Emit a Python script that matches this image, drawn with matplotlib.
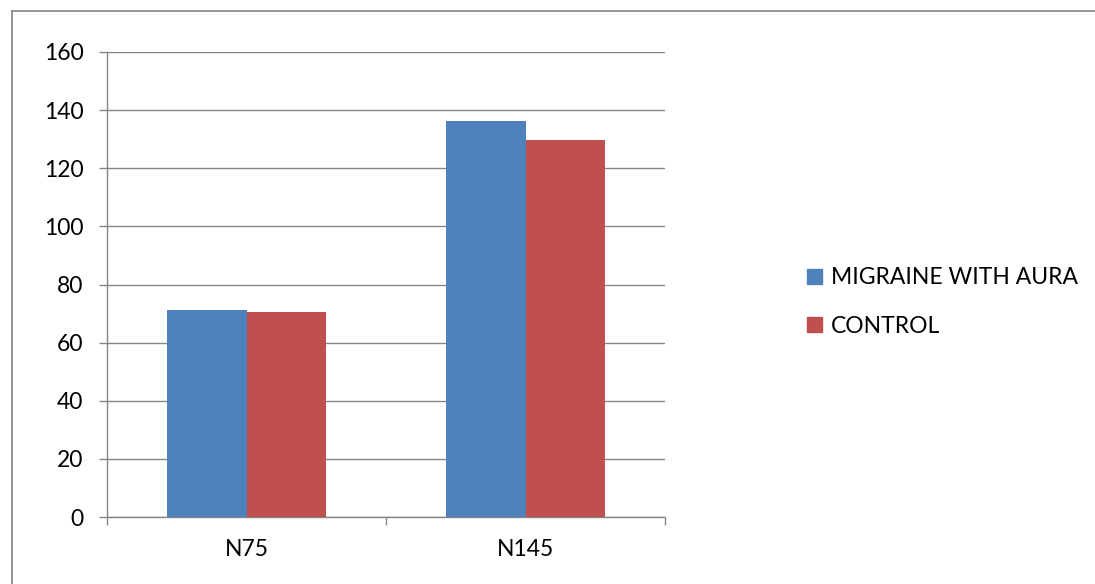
# Grouped bar chart: N75 / N145 latencies, migraine with aura vs control

import matplotlib
matplotlib.use("Agg")
import matplotlib.pyplot as plt
from matplotlib.patches import Patch
from matplotlib.lines import Line2D

# -------------------------------------------------------
# DATA
# -------------------------------------------------------
categories = ["N75", "N145"]
migraine_aura = [71.3, 136.2]
control = [70.5, 129.8]
series_names = ["MIGRAINE WITH AURA", "CONTROL"]
y_ticks = [0, 20, 40, 60, 80, 100, 120, 140, 160]

BLUE = "#4F81BD"
RED = "#C0504D"
GRID = "#868686"
FS = 16.5

plt.rcParams["font.family"] = ["Lato", "DejaVu Sans"]

W, H = 1095, 584
fig = plt.figure(figsize=(W / 100, H / 100), dpi=100)

# plot area in pixels: x 107..665, y 52..517
ax = fig.add_axes([107 / W, (H - 517) / H, 558 / W, 465 / H])

bar_w = 0.285
xs = list(range(len(categories)))
ax.bar([x - bar_w / 2 for x in xs], migraine_aura, bar_w, color=BLUE, zorder=3)
ax.bar([x + bar_w / 2 for x in xs], control, bar_w, color=RED, zorder=3)

ax.set_xlim(-0.5, len(categories) - 0.5)
ax.set_ylim(0, 160)
ax.set_yticks(y_ticks)
ax.set_yticklabels([str(v) for v in y_ticks])
ax.yaxis.grid(True, color=GRID, linewidth=1.0, zorder=0)
ax.set_axisbelow(True)

# category labels centered, ticks at the category boundaries
ax.set_xticks(xs)
ax.set_xticklabels(categories)
ax.tick_params(axis="x", which="major", length=0, pad=16, labelsize=FS)
ax.set_xticks([-0.5, 0.5, 1.5], minor=True)
ax.tick_params(axis="x", which="minor", length=6, color=GRID, width=1.0)
ax.tick_params(axis="y", length=6, color=GRID, width=1.0, pad=11, labelsize=FS)

for side in ["top", "right"]:
    ax.spines[side].set_visible(False)
for side in ["left", "bottom"]:
    ax.spines[side].set_color(GRID)
    ax.spines[side].set_linewidth(1.0)

handles = [Patch(color=BLUE), Patch(color=RED)]
fig.legend(handles, series_names, loc="center left",
           bbox_to_anchor=(807 / W, 1 - 302 / H), frameon=False,
           fontsize=FS, handlelength=0.65, handleheight=0.65,
           handletextpad=0.4, labelspacing=1.2, borderpad=0,
           borderaxespad=0)

# outer chart-area border: only the left and top edges are in the crop
x0, y0 = 11.5 / W, 1 - 10.5 / H
fig.add_artist(Line2D([x0, x0], [-0.1, y0], transform=fig.transFigure,
                      color="#8C8C8C", linewidth=1.3))
fig.add_artist(Line2D([x0, 1.1], [y0, y0], transform=fig.transFigure,
                      color="#8C8C8C", linewidth=1.3))

fig.savefig("out.png", dpi=100)
